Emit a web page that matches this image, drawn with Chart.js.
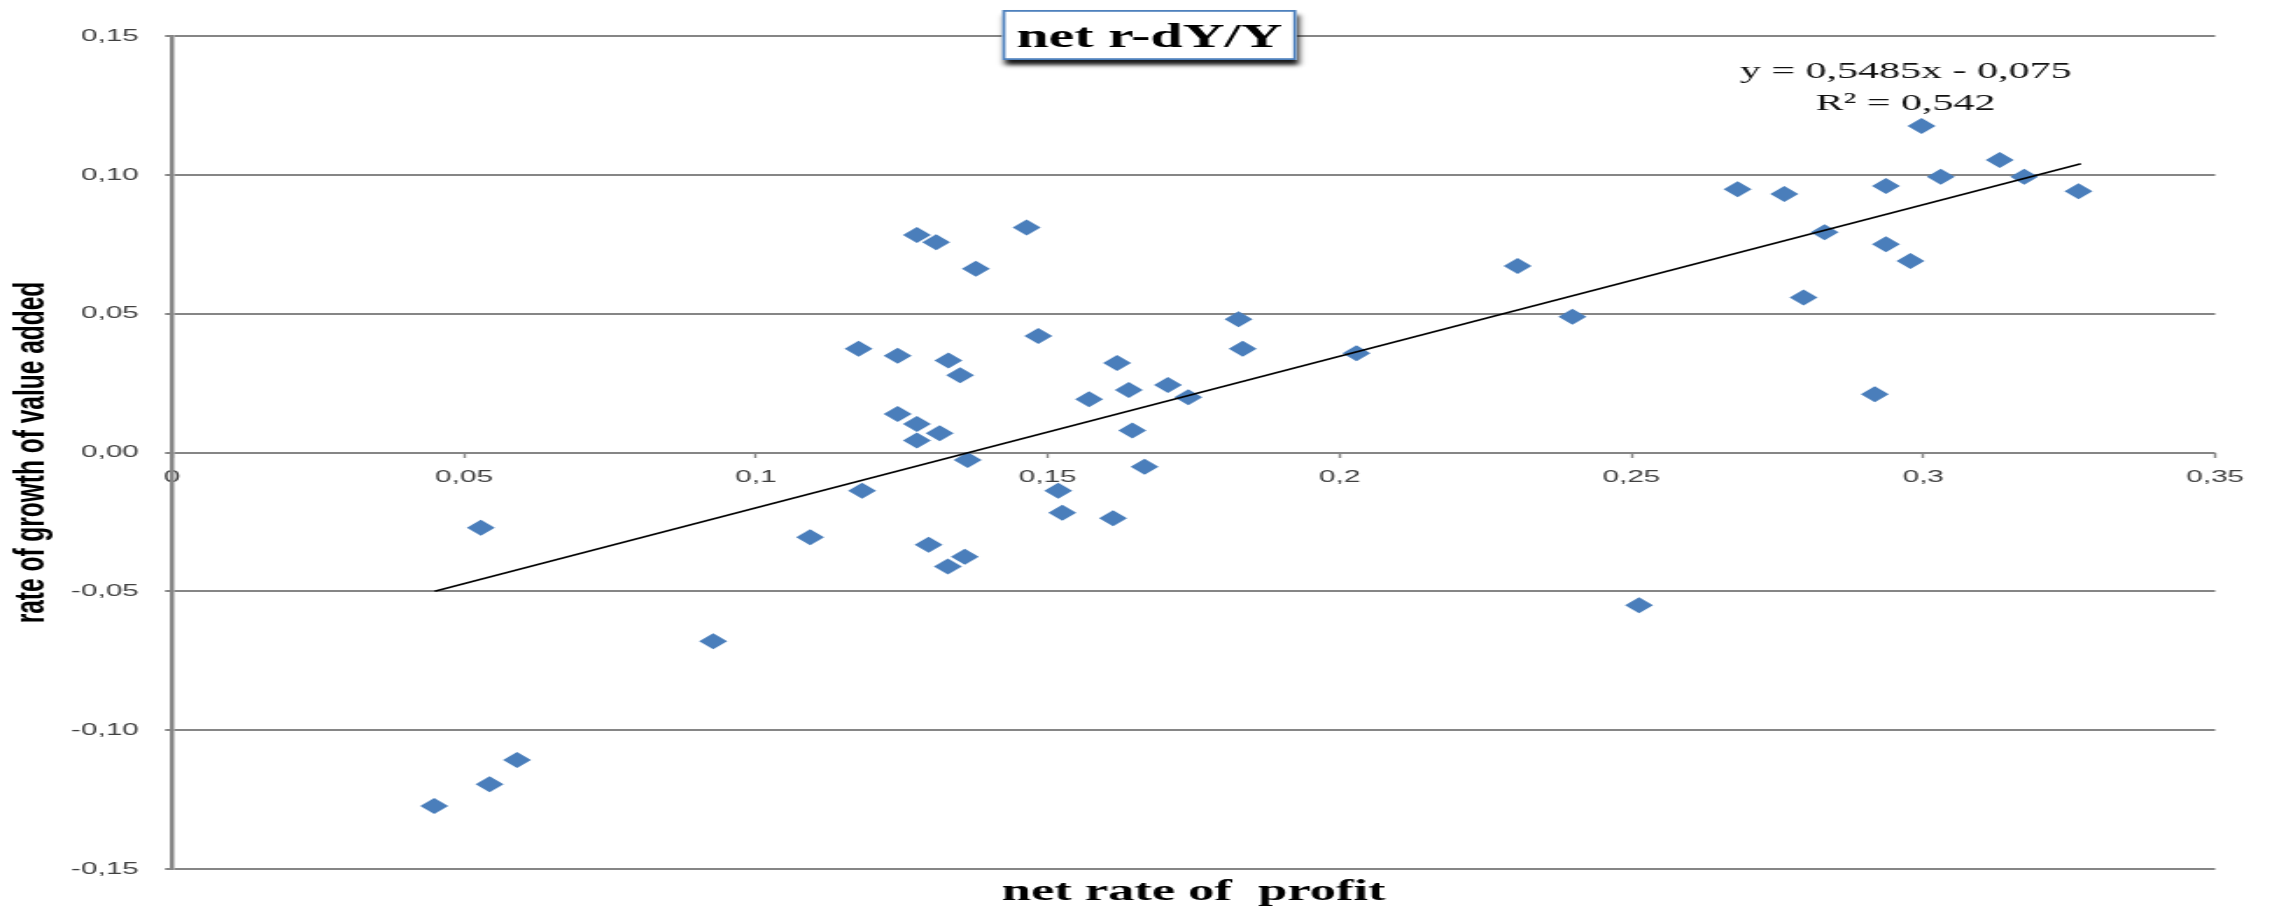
<!DOCTYPE html>
<html><head><meta charset="utf-8">
<script src="https://cdn.jsdelivr.net/npm/chart.js@4.4.1/dist/chart.umd.min.js"></script>
<style>
html,body{margin:0;padding:0;background:#fff;overflow:hidden;}
#c{display:block;width:2272px !important;height:911px !important;}
</style></head><body>
<canvas id="c" width="1298" height="911" style="width:2272px;height:911px;"></canvas>
<script>
// ---- data ----
const profitRate = [0.1276,0.1309,0.1464,0.1377,0.1176,0.1243,0.1330,0.1350,0.1484,0.1827,
  0.1834,0.2029,0.1619,0.1571,0.1639,0.1706,0.1741,0.1243,0.1276,0.1315,
  0.1276,0.1645,0.2305,0.1363,0.1182,0.1518,0.1666,0.1525,0.1612,0.1093,
  0.1296,0.1358,0.1329,0.0529,0.0927,0.0591,0.0544,0.0449,0.2513,0.2997,
  0.3131,0.3030,0.3173,0.2682,0.2762,0.2936,0.3266,0.2831,0.2936,0.2978,
  0.2795,0.2399,0.2917];
const growthRate = [0.0783,0.0757,0.0810,0.0662,0.0374,0.0348,0.0331,0.0278,0.0420,0.0480,
  0.0374,0.0357,0.0322,0.0192,0.0225,0.0243,0.0199,0.0139,0.0103,0.0069,
  0.0043,0.0079,0.0672,-0.0027,-0.0138,-0.0138,-0.0051,-0.0217,-0.0237,-0.0305,
  -0.0332,-0.0375,-0.0411,-0.0271,-0.0680,-0.1107,-0.1195,-0.1273,-0.0550,0.1176,
  0.1053,0.0993,0.0993,0.0948,0.0931,0.0960,0.0941,0.0793,0.0750,0.0690,
  0.0558,0.0489,0.0210];
const trendX = [0.045, 0.327];
const trendY = [-0.050, 0.104];
const xTickValues = [0,0.05,0.10,0.15,0.20,0.25,0.30,0.35];
const xTickLabels = ['0','0,05','0,1','0,15','0,2','0,25','0,3','0,35'];
const yTickValues = [-0.15,-0.10,-0.05,0,0.05,0.10,0.15];
const yTickLabels = ['-0,15','-0,10','-0,05','0,00','0,05','0,10','0,15'];
const chartTitle = 'net r-dY/Y';
const xAxisTitle = 'net rate of  profit';
const yAxisTitle = 'rate of growth of value added';
const trendEquation = 'y = 0,5485x - 0,075';
const trendR2 = 'R\u00B2 = 0,542';

function labelFor(vals, labels, v){
  for (let i=0;i<vals.length;i++){ if (Math.abs(vals[i]-v) < 1e-6) return labels[i]; }
  return '';
}

const points = profitRate.map((x,i)=>({x:x, y:growthRate[i]}));
const trend = trendX.map((x,i)=>({x:x, y:trendY[i]}));

const annot = {
  id:'annot',
  afterDraw(chart){
    const ctx = chart.ctx;
    ctx.save();
    // trend line label
    ctx.fillStyle = '#111';
    ctx.font = '24px "Liberation Serif"';
    ctx.textAlign = 'center';
    ctx.textBaseline = 'alphabetic';
    ctx.fillText(trendEquation, 1088.7, 78);
    ctx.fillText(trendR2, 1088.7, 110);
    // title box
    const bx = 572.6, by = 10, bw = 168, bh = 50;
    ctx.save();
    ctx.shadowColor = 'rgba(0,0,0,0.9)';
    ctx.shadowBlur = 4;
    ctx.shadowOffsetX = 1;
    ctx.shadowOffsetY = 5;
    ctx.fillStyle = '#fff';
    ctx.fillRect(bx, by, bw, bh);
    ctx.restore();
    ctx.fillStyle = '#fff';
    ctx.fillRect(bx, by, bw, bh);
    ctx.strokeStyle = '#4F81BD';
    ctx.lineWidth = 1.8;
    ctx.strokeRect(bx+0.9, by+0.9, bw-1.8, bh-1.8);
    ctx.fillStyle = '#000';
    ctx.font = 'bold 33px "Liberation Serif"';
    ctx.textAlign = 'center';
    ctx.fillText(chartTitle, bx + bw/2, 46.7);
    ctx.restore();
  }
};

new Chart(document.getElementById('c'), {
  type: 'scatter',
  data: {
    datasets: [
      { label:'trend', data: trend, showLine:true, borderColor:'#000', borderWidth:1.6,
        pointRadius:0, pointHoverRadius:0, order:0, fill:false },
      { label:'net r-dY/Y', data: points, pointStyle:'rectRot', pointRadius:8,
        pointHoverRadius:8, backgroundColor:'#4A7EBB', borderColor:'#4A7EBB', borderWidth:0, order:1 }
    ]
  },
  options: {
    responsive:false, animation:false, devicePixelRatio:1,
    layout:{ padding:{ top:36, right:32.5, left:0, bottom:0 } },
    plugins:{ legend:{display:false}, tooltip:{enabled:false}, title:{display:false} },
    scales:{
      x:{
        type:'linear', position:{y:0}, min:0, max:0.35,
        afterBuildTicks: s => { s.ticks = xTickValues.map(v=>({value:v})); },
        ticks:{ callback:(v)=>labelFor(xTickValues,xTickLabels,v),
          font:{family:'Liberation Sans', size:17}, color:'#404040', padding:10,
          maxRotation:0, autoSkip:false },
        grid:{ drawOnChartArea:false, drawTicks:true, tickLength:5, tickWidth:1.4, tickColor:'#868686' },
        border:{ display:false }
      },
      x2:{
        type:'linear', position:'bottom', min:0, max:0.35,
        ticks:{display:false}, grid:{display:false}, border:{display:false},
        title:{ display:true, text:xAxisTitle, color:'#000',
          font:{family:'Liberation Serif', size:30, weight:'bold'}, padding:{top:0,bottom:1} },
        afterFit: s => { s.height = 42; }
      },
      y:{
        type:'linear', position:'left', min:-0.15, max:0.15,
        afterBuildTicks: s => { s.ticks = yTickValues.map(v=>({value:v})); },
        ticks:{ callback:(v)=>labelFor(yTickValues,yTickLabels,v),
          font:{family:'Liberation Sans', size:17}, color:'#404040', padding:15, autoSkip:false },
        grid:{ color:'#868686', lineWidth:2, tickLength:4, drawTicks:true },
        border:{ display:true, color:'#868686', width:2.5 },
        title:{ display:true, text:yAxisTitle, color:'#000',
          font:{family:'Liberation Sans', size:24.5, weight:'bold'}, padding:{top:3.7,bottom:0} },
        afterFit: s => { s.width = 98.3; }
      }
    }
  },
  plugins:[annot]
});
</script>
</body></html>
